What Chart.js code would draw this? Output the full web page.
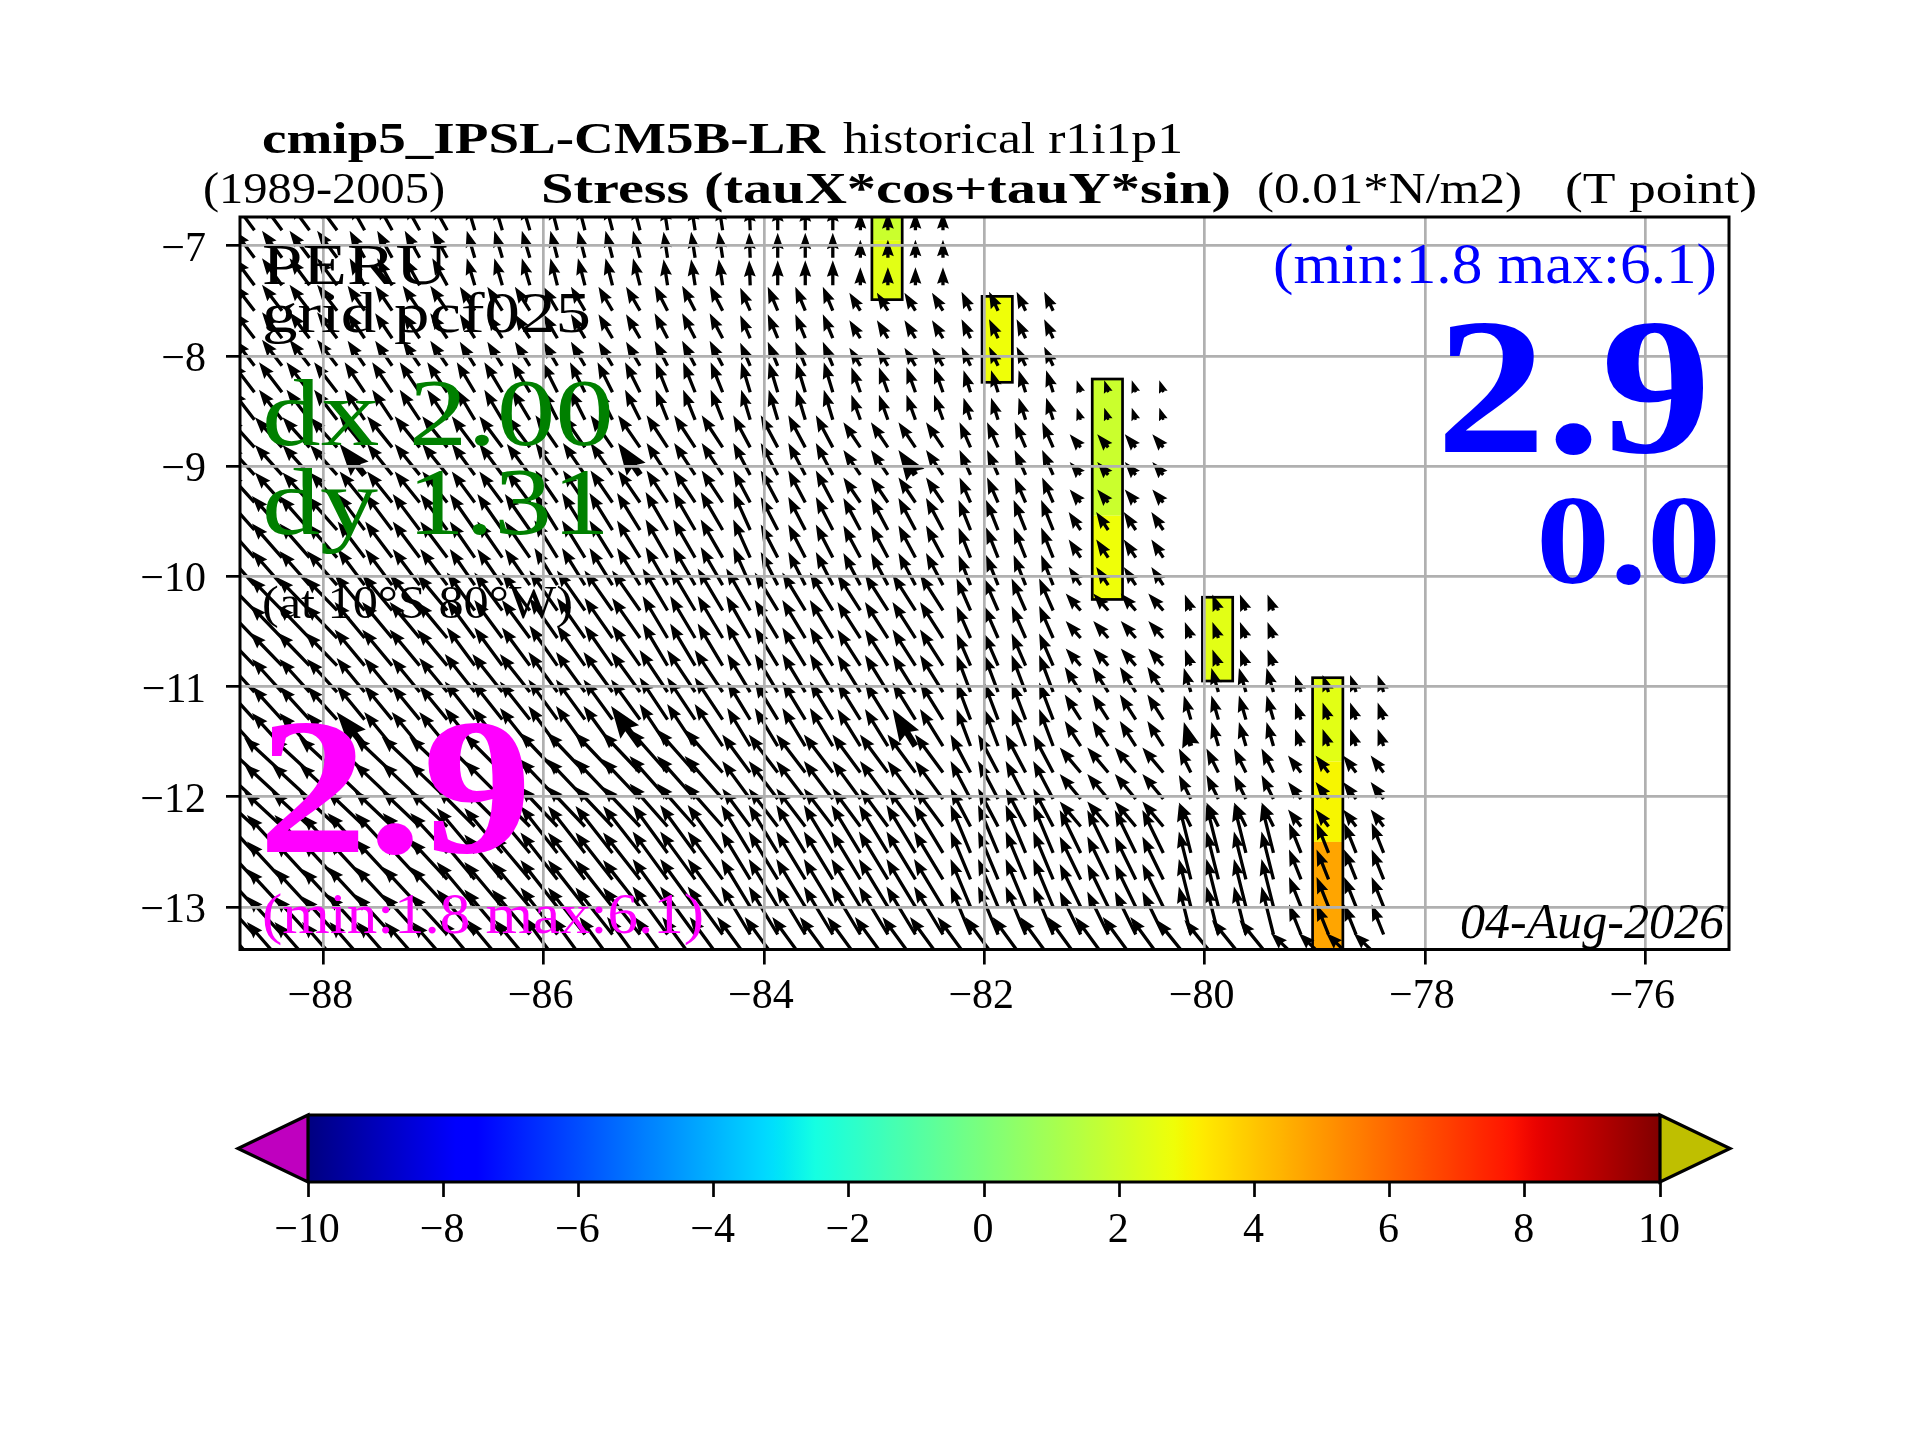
<!DOCTYPE html>
<html>
<head>
<meta charset="utf-8">
<title>Stress PERU</title>
<script src="https://cdn.jsdelivr.net/npm/chart.js@4"></script>
<style>
  html, body { margin: 0; background: #fff; }
  #wrap { position: relative; width: 1920px; height: 1440px; }
  canvas { position: absolute; left: 0; top: 0; }
</style>
</head>
<body>
<div id="wrap">
  <canvas id="map" width="1920" height="1440"></canvas>
  <canvas id="bar" width="1920" height="1440"></canvas>
</div>
<script>
// ---- data ----
const lonTicks = [-88, -86, -84, -82, -80, -78, -76];
const latTicks = [-7, -8, -9, -10, -11, -12, -13];
const barTicks = [-10, -8, -6, -4, -2, 0, 2, 4, 6, 8, 10];

// arrow tails
const gridLon = [-88.625, -88.375, -88.125, -87.875, -87.625, -87.375, -87.125, -86.875, -86.625, -86.375, -86.125,
  -85.875, -85.625, -85.375, -85.125, -84.875, -84.625, -84.375, -84.125, -83.875, -83.625, -83.375,
  -83.125, -82.875, -82.625, -82.375, -82.125, -81.875, -81.625, -81.375, -81.125, -80.875, -80.625, -80.375,
  -80.125, -79.875, -79.625, -79.375, -79.125, -78.875, -78.625, -78.375];
const gridLat = [-6.86, -7.11, -7.36, -7.59, -7.84, -8.09, -8.33, -8.58, -8.83, -9.08, -9.33, -9.58, -9.83, -10.08,
  -10.31, -10.56, -10.81, -11.05, -11.30, -11.54, -11.78, -12.02, -12.27, -12.51, -12.75, -13.0, -13.25, -13.5];
// last sea column of each row (coast)
const rowLastCol = [25, 25, 25, 29, 29, 29, 33, 33, 33, 33, 33, 33, 33, 33, 37, 37, 37,
  41, 41, 41, 41, 41, 41, 41, 41, 41, 41, 41];

// the field comes in blocks (coarse model): row band x column band
const rowBand = [0, 0, 0, 1, 1, 1, 2, 2, 3, 3, 3, 4, 4, 4, 5, 5, 5, 6, 6, 6, 7, 7, 7, 8, 8, 8, 8, 9];
const colBand = [0, 0, 0, 0, 1, 1, 1, 1, 2, 2, 2, 3, 3, 3, 3, 4, 4, 4, 5, 6, 6, 6, 7, 7, 7, 7,
  8, 8, 8, 8, 9, 9, 9, 9, 10, 10, 10, 10, 11, 11, 11, 11];
const tauX = [
  [-20, -15, -8, -7, -4, -1, 0, 0],
  [-20, -17, -15, -14, -13, -10, -10, -11, -9],
  [-23, -20, -18, -15, -12, -9, -9, -9, -7, -4],
  [-27, -25, -23, -22, -21, -17, -17, -17, -11, -11],
  [-30, -27, -25, -23, -22, -17, -17, -17, -12, -12],
  [-32, -30, -28, -28, -25, -24, -23, -23, -14, -15, -6],
  [-30, -28, -30, -29, -28, -23, -23, -23, -14, -16, -7, -6],
  [-38, -38, -38, -38, -38, -28, -29, -28, -20, -21, -12, -13],
  [-35, -37, -38, -37, -35, -29, -29, -29, -20, -21, -12, -12],
  [-35, -35, -35, -33, -33, -33, -33, -33, -33, -33, -34, -30]
];
const tauY = [
  [27, 27, 27, 27, 26, 25, 25, 18],
  [26, 25, 24, 24, 25, 23, 24, 18, 19],
  [30, 30, 30, 30, 30, 30, 30, 25, 22, 12],
  [30, 31, 31, 32, 32, 32, 32, 25, 25, 13],
  [34, 36, 36, 37, 38, 38, 33, 32, 30, 18],
  [33, 36, 38, 40, 42, 42, 38, 36, 32, 17, 16],
  [33, 34, 38, 40, 42, 38, 38, 37, 37, 25, 24, 17],
  [35, 36, 38, 40, 43, 38, 38, 38, 38, 25, 24, 17],
  [38, 40, 45, 47, 48, 48, 48, 48, 48, 43, 48, 30],
  [40, 40, 42, 45, 45, 45, 45, 45, 45, 45, 42, 29]
];
// arrows drawn heavier in the picture (row, column)
const wideRow = [9, 9, 9, 19, 19, 19, 19];
const wideCol = [4, 14, 24, 4, 14, 24, 34];

// coloured cells along the coast
const cellWest = [-83.02, -83.02, -82.02, -81.02, -81.02, -80.02, -79.02, -79.02, -79.02];
const cellTop = [-6.5, -6.95, -7.46, -8.21, -9.45, -10.19, -10.92, -11.68, -12.41];
const cellBottom = [-6.95, -7.49, -8.24, -9.45, -10.21, -10.95, -11.68, -12.41, -13.6];
const cellValue = [1.9, 2.5, 2.8, 1.9, 2.8, 2.5, 2.5, 3.0, 4.7];
// one outline per group of cells
const boxWest = [-83.02, -82.02, -81.02, -80.02, -79.02];
const boxTop = [-6.5, -7.46, -8.21, -10.19, -10.92];
const boxBottom = [-7.49, -8.24, -10.21, -10.95, -13.6];
const cellWidth = 0.275;

const serif = '"Liberation Serif", "DejaVu Serif", serif';
// text, left, baseline, width, font, colour
const notes = [
  ['cmip5_IPSL-CM5B-LR', 262, 153, 563, 'bold 45px', '#000'],
  ['historical r1i1p1', 843, 153, 340, '45px', '#000'],
  ['(1989-2005)', 203, 203, 242, '45px', '#000'],
  ['Stress (tauX*cos+tauY*sin)', 541, 203, 690, 'bold 45px', '#000'],
  ['(0.01*N/m2)', 1257, 203, 265, '45px', '#000'],
  ['(T point)', 1565, 203, 192, '45px', '#000'],
  ['PERU', 262, 284, 186, '57px', '#000'],
  ['grid pcf025', 262, 332, 329, '57px', '#000'],
  ['dx 2.00', 262, 445, 352, '96px', '#008000'],
  ['dy 1.31', 262, 534, 348, '96px', '#008000'],
  ['(at 10°S 80°W)', 262, 618, 311, '46px', '#000'],
  ['(min:1.8 max:6.1)', 1273, 283, 444, '58px', '#0000ff'],
  ['2.9', 1436, 452, 275, 'bold 194px', '#0000ff'],
  ['0.0', 1536, 583, 185, 'bold 128px', '#0000ff'],
  ['2.9', 258, 852, 274, 'bold 194px', '#ff00ff'],
  ['(min:1.8 max:6.1)', 262, 933, 442, '58px', '#ff00ff'],
  ['04-Aug-2026', 1460, 938, 264, 'italic 50px', '#000']
];

// ---- colours ----
const jetR = [[0, 0], [0.35, 0], [0.66, 1], [0.89, 1], [1, 0.5]];
const jetG = [[0, 0], [0.125, 0], [0.375, 1], [0.64, 1], [0.91, 0], [1, 0]];
const jetB = [[0, 0.5], [0.11, 1], [0.34, 1], [0.65, 0], [1, 0]];

function channel(keys, x) {
  for (let i = 1; i < keys.length; i++) {
    if (x <= keys[i][0]) {
      const t = (x - keys[i - 1][0]) / (keys[i][0] - keys[i - 1][0]);
      return Math.round(255 * (keys[i - 1][1] + t * (keys[i][1] - keys[i - 1][1])));
    }
  }
  return Math.round(255 * keys[keys.length - 1][1]);
}

function jet(value) {
  const x = (value + 10) / 20;
  return 'rgb(' + channel(jetR, x) + ',' + channel(jetG, x) + ',' + channel(jetB, x) + ')';
}

// ---- arrows ----
const degPerUnit = 1 / 110.17;
const tails = [];
gridLat.forEach((lat, r) => {
  gridLon.forEach((lon, c) => {
    if (c > rowLastCol[r]) return;
    const wide = wideRow.some((wr, k) => wr === r && wideCol[k] === c);
    tails.push({
      x: lon, y: lat,
      u: tauX[rowBand[r]][colBand[c]],
      v: tauY[rowBand[r]][colBand[c]],
      wide: wide
    });
  });
});

function drawArrow(ctx, x0, y0, x1, y1, w) {
  const len = Math.hypot(x1 - x0, y1 - y0);
  if (!len) return;
  let headLen = 5 * w, axisLen = 4.5 * w, shaft = w / 2, barb = 1.8 * w;
  if (len < headLen) { // short arrows shrink as a whole
    const k = len / headLen;
    headLen *= k; axisLen *= k; shaft *= k; barb *= k;
  }
  ctx.save();
  ctx.translate(x0, y0);
  ctx.rotate(Math.atan2(y1 - y0, x1 - x0));
  ctx.beginPath();
  ctx.moveTo(0, -shaft);
  ctx.lineTo(len - axisLen, -shaft);
  ctx.lineTo(len - headLen, -barb);
  ctx.lineTo(len, 0);
  ctx.lineTo(len - headLen, barb);
  ctx.lineTo(len - axisLen, shaft);
  ctx.lineTo(0, shaft);
  ctx.closePath();
  ctx.fill();
  ctx.restore();
}

const mapPlugin = {
  id: 'mapLayers',
  beforeDatasetsDraw(chart) {
    const { ctx, chartArea: a, scales: { x, y } } = chart;
    ctx.save();
    ctx.beginPath();
    ctx.rect(a.left, a.top, a.width, a.height);
    ctx.clip();
    cellWest.forEach((w, i) => {
      const px = x.getPixelForValue(w), py = y.getPixelForValue(cellTop[i]);
      ctx.fillStyle = jet(cellValue[i]);
      ctx.fillRect(px, py, x.getPixelForValue(w + cellWidth) - px, y.getPixelForValue(cellBottom[i]) - py);
    });
    ctx.strokeStyle = '#000';
    ctx.lineWidth = 2.7;
    boxWest.forEach((w, i) => {
      const px = x.getPixelForValue(w), py = y.getPixelForValue(boxTop[i]);
      ctx.strokeRect(px, py, x.getPixelForValue(w + cellWidth) - px, y.getPixelForValue(boxBottom[i]) - py);
    });
    ctx.restore();
  },
  afterDatasetsDraw(chart) {
    const { ctx, chartArea: a, scales: { x, y } } = chart;
    ctx.save();
    ctx.beginPath();
    ctx.rect(a.left, a.top, a.width, a.height);
    ctx.clip();
    ctx.fillStyle = '#000';
    tails.forEach(t => {
      drawArrow(ctx,
        x.getPixelForValue(t.x), y.getPixelForValue(t.y),
        x.getPixelForValue(t.x + t.u * degPerUnit), y.getPixelForValue(t.y + t.v * degPerUnit),
        t.wide ? 6.4 : 3.3);
    });
    ctx.restore();
  },
  afterDraw(chart) {
    const { ctx, chartArea: a } = chart;
    ctx.save();
    ctx.strokeStyle = '#000';
    ctx.lineWidth = 3;
    ctx.strokeRect(a.left, a.top, a.width, a.height);
    ctx.textBaseline = 'alphabetic';
    notes.forEach(n => {
      ctx.font = n[4] + ' ' + serif;
      ctx.fillStyle = n[5];
      const k = n[3] / ctx.measureText(n[0]).width;
      ctx.save();
      ctx.translate(n[1], n[2]);
      ctx.scale(k, 1);
      ctx.fillText(n[0], 0, 0);
      ctx.restore();
    });
    ctx.restore();
  }
};

const tickText = v => (v < 0 ? '\u2212' + Math.abs(v) : String(v));

new Chart(document.getElementById('map'), {
  type: 'scatter',
  plugins: [mapPlugin],
  data: { datasets: [{ data: tails, pointRadius: 0, pointHoverRadius: 0, showLine: false }] },
  options: {
    responsive: false,
    animation: false,
    devicePixelRatio: 1,
    events: [],
    layout: { autoPadding: false, padding: { left: 0, right: 191, top: 217, bottom: 0 } },
    plugins: { legend: { display: false }, tooltip: { enabled: false } },
    scales: {
      x: {
        type: 'linear', min: -88.756, max: -75.24,
        afterBuildTicks: s => { s.ticks = lonTicks.map(v => ({ value: v })); },
        afterFit: s => { s.height = 490.5; },
        border: { display: false },
        grid: { color: '#b0b0b0', lineWidth: 2.7, z: 1, tickColor: '#000', tickLength: 15, tickWidth: 2.7 },
        ticks: { color: '#000', font: { family: serif, size: 42 }, padding: 7, labelOffset: -3, maxRotation: 0, autoSkip: false, callback: tickText }
      },
      y: {
        type: 'linear', min: -13.386, max: -6.74,
        afterBuildTicks: s => { s.ticks = latTicks.map(v => ({ value: v })); },
        afterFit: s => { s.width = 240; },
        border: { display: false },
        grid: { color: '#b0b0b0', lineWidth: 2.7, z: 1, tickColor: '#000', tickLength: 14, tickWidth: 2.7 },
        ticks: { color: '#000', font: { family: serif, size: 42 }, padding: 20, labelOffset: 4, autoSkip: false, callback: tickText }
      }
    }
  }
});

// ---- colour bar ----
const barPlugin = {
  id: 'barFill',
  beforeDatasetsDraw(chart) {
    const { ctx, chartArea: a } = chart;
    const grad = ctx.createLinearGradient(a.left, 0, a.right, 0);
    for (let i = 0; i <= 128; i++) grad.addColorStop(i / 128, jet(-10 + 20 * i / 128));
    ctx.fillStyle = grad;
    ctx.fillRect(a.left, a.top, a.width, a.height);
  },
  afterDraw(chart) {
    const { ctx, chartArea: a } = chart;
    const mid = (a.top + a.bottom) / 2, ext = 70;
    ctx.save();
    ctx.lineWidth = 3.2;
    ctx.strokeStyle = '#000';
    ctx.lineJoin = 'miter';
    ctx.fillStyle = '#bf00bf';
    ctx.beginPath();
    ctx.moveTo(a.left, a.top); ctx.lineTo(a.left - ext, mid); ctx.lineTo(a.left, a.bottom); ctx.closePath();
    ctx.fill(); ctx.stroke();
    ctx.fillStyle = '#bfbf00';
    ctx.beginPath();
    ctx.moveTo(a.right, a.top); ctx.lineTo(a.right + ext, mid); ctx.lineTo(a.right, a.bottom); ctx.closePath();
    ctx.fill(); ctx.stroke();
    ctx.beginPath();
    ctx.moveTo(a.left, a.top); ctx.lineTo(a.right, a.top);
    ctx.moveTo(a.left, a.bottom); ctx.lineTo(a.right, a.bottom);
    ctx.stroke();
    ctx.restore();
  }
};

new Chart(document.getElementById('bar'), {
  type: 'scatter',
  plugins: [barPlugin],
  data: { datasets: [{ data: [], pointRadius: 0 }] },
  options: {
    responsive: false,
    animation: false,
    devicePixelRatio: 1,
    events: [],
    layout: { autoPadding: false, padding: { left: 308, right: 260, top: 1115, bottom: 0 } },
    plugins: { legend: { display: false }, tooltip: { enabled: false } },
    scales: {
      x: {
        type: 'linear', min: -10, max: 10,
        afterBuildTicks: s => { s.ticks = barTicks.map(v => ({ value: v })); },
        afterFit: s => { s.height = 258; },
        border: { display: false },
        grid: { drawOnChartArea: false, tickColor: '#000', tickLength: 15, tickWidth: 2.7 },
        ticks: { color: '#000', font: { family: serif, size: 42 }, padding: 9, labelOffset: -1, maxRotation: 0, autoSkip: false, callback: tickText }
      },
      y: { type: 'linear', min: 0, max: 1, display: false }
    }
  }
});
</script>
</body>
</html>
